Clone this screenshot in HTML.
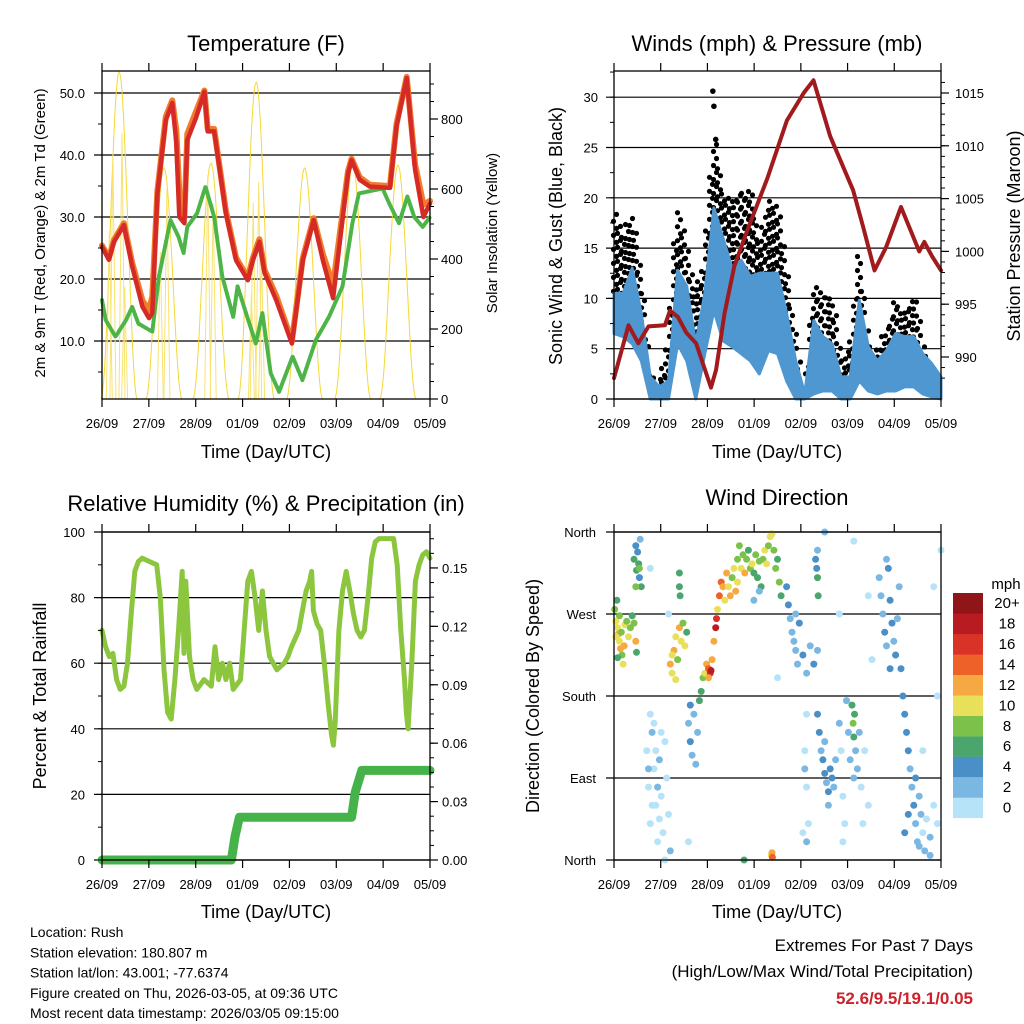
<!DOCTYPE html>
<html><head><meta charset="utf-8">
<style>
html,body{margin:0;padding:0;background:#fff;}
svg{display:block;font-family:"Liberation Sans",sans-serif;}
</style></head>
<body>
<svg id="chart" width="1024" height="1024" viewBox="0 0 1024 1024" xmlns="http://www.w3.org/2000/svg">
<g id="layer-back"></g>
<g id="layer-data"></g>
<g id="layer-axes"></g>
<g id="layer-text"></g>
</svg>
<script>
// ---------- data (time in axis units: 0..9 spans 26/09 00 UTC .. 05/09 00 UTC) ----------
const dayLabels = ["26/09","27/09","28/09","01/09","02/09","03/09","04/09","05/09"];
const tempT = [0,0.19,0.33,0.6,0.83,1.11,1.29,1.38,1.52,1.75,1.93,2.04,2.12,2.26,2.34,2.58,2.81,2.9,3.08,3.4,3.68,4.0,4.14,4.32,4.46,4.78,5.21,5.51,5.81,6.06,6.34,6.75,6.85,7.07,7.35,7.9,8.08,8.36,8.59,8.82,9];
const tempRed = [25.2,23.1,26,28.7,22,15.5,13.7,14.5,33.8,45.6,48.4,42,30,29,42.4,46,50.2,43.8,43.8,30.6,23,19.8,23,26,21,16.6,9.6,23,29.5,23,16.9,37,39.2,36,34.9,34.7,44.6,52.4,37.6,30,32.2];
const tempOrange = [25.4,23.4,26.3,29,22.6,16.5,15,17.2,34.2,46.2,48.8,44,34,30,43.4,47,50.4,44.2,44.2,31,23.4,20.2,23.4,26.4,21.5,17.3,10,23.4,29.8,24,19,37.4,39.4,36.4,35.2,35,45,52.6,38.5,32,32.6];
const tdT = [0,0.1,0.37,0.66,0.83,1.0,1.38,1.56,1.88,2.1,2.24,2.34,2.61,2.84,3.08,3.3,3.6,3.72,3.95,4.22,4.4,4.63,4.86,5.23,5.5,5.87,6.23,6.6,6.87,7.05,7.7,7.88,8.15,8.38,8.57,8.8,9];
const tdVal = [16.6,13.4,10.7,13.4,15.5,12.8,11.5,20.4,29.5,26.8,24.2,28.4,30.6,34.9,30,20.4,13.9,18.8,14.5,9.6,14.5,4.8,1.8,7.5,3.7,10.2,13.9,18.8,29,33.8,34.6,32.2,29,33.3,30,28.4,30];
const solarT = [0.47,1.7,2.99,4.23,5.56,6.88,8.12];
const solarPeak = [934,660,674,905,660,670,668];
const solarSpikeT = [0.2,0.3,0.55,0.62,1.6,1.78,2.9,3.05,4.15,4.3,4.38,4.1];
const solarSpikeV = [480,700,760,320,420,600,640,560,560,620,400,300];

const presT = [0,0.4,0.67,0.95,1.4,1.54,1.76,1.99,2.26,2.67,2.81,3.04,3.31,3.67,4.22,4.76,5.22,5.49,5.95,6.58,6.86,7.17,7.49,7.9,8.4,8.54,8.76,9];
const presVal = [988.0,993.0,991.3,992.9,993.0,994.4,993.8,992.3,991.3,987.1,988.8,994.1,998.6,1002.0,1006.9,1012.4,1015.0,1016.2,1010.9,1005.8,1002.3,998.2,1000.4,1004.2,1000.0,1000.9,999.5,998.2];
const windT = [0,0.25,0.5,0.75,1,1.25,1.5,1.75,2,2.25,2.5,2.75,3,3.25,3.5,3.75,4,4.25,4.5,4.75,5,5.25,5.5,5.75,6,6.25,6.5,6.75,7,7.25,7.5,7.75,8,8.25,8.5,8.75,9];
const windHi = [10.5,10.5,13,8.5,2.2,1.2,1.8,12.8,11.2,5.5,10.5,19,16,13,13.8,12.2,12.5,12.5,12.5,8.5,3.8,0.5,7.8,6.2,5.5,2.2,2.2,9.8,5.2,3.8,4.8,6.5,6.2,6.2,4.5,3.5,2.2];
const windLo = [6.5,6.2,5.5,3.8,0,0,0,5.5,3.8,0,4.5,8.8,5.8,5.2,4.5,3.8,2.5,4.8,4.5,1.8,0,0,0.5,0.8,0.8,0,0,1.8,0.8,0.5,0.8,0.8,1.2,1.2,0.5,0.2,0];
const gustHi = [18.8,16.5,18.5,12.5,2.5,2.2,5.5,19.5,15,10.5,13.8,26,20.5,19.8,20.5,20.8,15.5,19.8,19.5,12.5,6.2,0.5,11.8,10.5,10.5,3.8,5.2,15,5.5,5.2,7.2,9.8,8.5,10.8,5.5,3.5,1.8];
const gustPeakT = [2.72,2.75,2.8];
const gustPeakV = [30.6,29.1,25.8];

const rhT = [0,0.1,0.2,0.3,0.4,0.5,0.6,0.7,0.8,0.9,1.0,1.1,1.3,1.5,1.6,1.7,1.8,1.9,2.0,2.1,2.2,2.25,2.3,2.4,2.5,2.6,2.8,3.0,3.1,3.2,3.3,3.4,3.5,3.6,3.8,4.0,4.1,4.2,4.3,4.4,4.5,4.6,4.8,5.0,5.1,5.2,5.4,5.5,5.6,5.7,5.75,5.8,5.9,6.0,6.1,6.2,6.3,6.35,6.4,6.5,6.6,6.7,6.8,6.9,7.0,7.1,7.2,7.3,7.4,7.5,7.6,7.8,8.0,8.1,8.2,8.3,8.35,8.4,8.5,8.6,8.7,8.8,8.9,9.0];
const rhVal = [70,65,62,63,55,52,53,60,75,88,91,92,91,90,80,58,45,43,55,70,88,63,85,62,55,52,55,53,65,55,60,55,60,52,55,85,88,80,70,82,70,62,58,60,62,65,70,76,82,85,88,76,72,70,60,48,38,35,42,70,82,88,82,75,70,68,70,80,92,97,98,98,98,90,70,55,45,40,60,85,90,93,94,92];
const precipT = [0,3.55,3.65,3.77,6.85,6.95,7.13,9];
const precipVal = [0,0,0.012,0.022,0.022,0.035,0.046,0.046];

const dirT = [0.02,0.05,0.08,0.1,0.12,0.15,0.18,0.2,0.22,0.25,0.3,0.35,0.4,0.45,0.5,0.55,0.6,0.62,0.05,0.15,0.28,0.1,
0.55,0.6,0.62,0.65,0.68,0.7,0.72,0.75,0.6,0.7,
0.9,0.95,1.0,1.05,1.1,1.15,1.2,1.0,1.25,1.3,1.35,1.4,1.45,1.5,1.55,1.1,1.2,1.3,1.4,0.95,1.05,1.15,1.25,
1.55,1.6,1.65,1.7,1.75,1.8,1.85,1.9,1.95,2.0,1.6,1.7,1.8,1.8,1.82,
2.05,2.1,2.15,2.2,2.25,2.3,2.1,
2.35,2.4,2.45,2.5,2.55,2.6,2.65,2.67,2.7,2.75,2.8,2.82,2.85,2.6,
2.9,2.95,3.0,3.05,3.1,3.15,3.2,3.25,3.3,3.35,3.4,
3.4,3.45,3.5,3.55,3.6,3.65,3.7,3.75,3.8,3.85,3.9,3.95,4.0,4.05,4.1,4.15,4.2,4.25,4.3,4.35,4.4,4.45,4.5,4.55,4.6,4.0,3.85,
4.75,4.8,4.85,4.9,4.95,5.0,5.05,5.1,5.2,5.3,5.4,5.5,5.0,5.6,
5.3,5.25,5.3,5.35,5.3,5.25,5.2,
5.55,5.6,5.62,5.58,5.6,
5.6,5.65,5.7,5.75,5.8,5.85,5.9,5.95,6.0,6.05,5.9,5.8,6.1,
6.2,6.25,6.3,6.35,6.4,6.45,6.5,6.55,6.58,6.6,6.62,6.65,6.7,6.75,6.8,6.85,6.9,7.0,6.6,6.3,
7.3,7.35,7.4,7.45,7.5,7.55,7.6,7.65,7.7,7.75,7.8,7.85,7.5,7.6,
7.9,7.95,8.0,8.05,8.1,8.15,8.2,8.25,8.3,8.35,8.4,8.45,8.5,8.55,8.6,8.7,8.8,8.5,8.1,8.3,8.0,8.7,8.9,8.4,
4.33,4.35,4.36,3.58,
1.5,1.0,2.05,4.5,6.2,7.1,8.9,9.0,8.8,6.6,7.0,5.8];
const dirDeg = [275,262,285,255,248,240,232,250,225,215,258,262,245,255,268,260,240,228,245,268,235,222,
330,345,318,338,325,310,352,300,300,320,
120,80,40,140,100,60,20,160,110,70,30,130,90,50,10,150,80,140,0,100,60,120,45,
215,205,230,245,220,255,240,260,235,250,225,198,315,300,290,
150,130,115,160,105,140,170,
175,185,200,205,215,210,205,208,220,240,255,265,275,200,
290,305,300,285,315,300,290,310,320,295,305,
330,345,320,335,315,330,340,320,325,315,335,310,328,300,330,340,325,345,355,358,340,320,330,305,290,295,285,
300,280,265,250,240,230,215,260,225,205,235,215,270,230,
160,120,80,40,20,100,30,
330,310,290,320,340,
160,140,120,110,95,85,75,100,90,80,60,130,110,
150,120,70,40,175,140,110,170,150,135,160,120,100,140,80,40,120,60,90,20,
310,290,270,250,235,320,285,260,240,225,265,300,330,210,
210,180,160,140,120,100,80,60,40,20,70,50,30,10,45,25,60,120,50,90,30,5,40,15,
5,8,3,0,
270,320,20,200,270,220,180,340,300,350,290,360];
const dirSpd = [8,10,6,11,12,10,12,9,8,10,11,9,10,8,7,9,12,6,11,9,12,7,
6,4,6,5,7,4,3,6,8,8,
1,0,1,2,1,0,1,0,2,1,0,1,1,0,2,1,2,0,1,2,1,1,1,
12,10,12,11,9,12,10,8,10,7,11,10,6,6,6,
3,4,3,2,3,2,4,
6,7,8,10,12,14,16,19,12,12,18,16,10,12,
14,14,12,10,12,10,12,9,11,12,10,
8,9,10,8,12,9,7,8,10,6,8,7,9,6,8,10,11,9,10,10,8,9,7,8,6,3,3,
4,4,3,2,2,3,2,4,4,2,3,4,2,2,
1,0,1,1,2,2,0,
4,6,6,4,3,
4,4,3,4,4,3,4,4,4,3,2,2,2,
2,1,1,0,3,2,2,6,8,7,6,3,2,2,1,1,0,1,2,1,
2,2,3,4,3,4,4,4,3,4,2,2,2,4,
4,4,4,4,4,3,2,4,2,2,3,2,1,2,1,2,1,1,4,4,4,2,1,2,
10,12,14,6,
1,1,1,1,1,1,1,1,1,1,1,2];
const speedColors = ["#b6e3f8","#7ab8e3","#4a8fc6","#4aa66d","#7cc24a","#e8e05a","#f6a842","#ee6128","#d93327","#b81c22","#8f1518"];
const speedLabels = ["0","2","4","6","8","10","12","14","16","18","20+"];

// ---------- helpers ----------
const NS = "http://www.w3.org/2000/svg";
const back = document.getElementById('layer-back');
const dataL = document.getElementById('layer-data');
const axesL = document.getElementById('layer-axes');
const textL = document.getElementById('layer-text');
function mk(tag, attrs, parent){const e=document.createElementNS(NS,tag);for(const k in attrs)e.setAttribute(k,attrs[k]);parent.appendChild(e);return e;}
function txt(s,x,y,size,anchor,parent,extra){const e=mk('text',{x:x,y:y,'font-size':size,'text-anchor':anchor||'middle',fill:'#000'},parent);if(extra)for(const k in extra)e.setAttribute(k,extra[k]);e.textContent=s;return e;}

const PL = {x0:102,x1:430}, PR = {x0:614,x1:941};
const xA = u => PL.x0 + u*(PL.x1-PL.x0)/9;
const xB = u => PR.x0 + u*(PR.x1-PR.x0)/9;
const yT = v => 403 - v*6.2;
const yS = v => 399 - v*0.35;
const yW = v => 399 - v*10.06;
const yP = v => 93 + (1015-v)*10.56;
const yR = v => 860 - v*3.28;
const yPr = v => 860 - v*1947;
const yD = v => 860 - v*328/360;

function frame(p, top, bot, name){
  const r = mk('rect',{x:p.x0,y:top,width:p.x1-p.x0,height:bot-top,fill:'none',stroke:'#000','stroke-width':1.3},axesL);
  
  
  for(let i=0;i<8;i++){
    const x = p.x0 + i*(p.x1-p.x0)/7;
    mk('line',{x1:x,y1:top,x2:x,y2:top-8,stroke:'#000','stroke-width':1.2},axesL);
    mk('line',{x1:x,y1:bot,x2:x,y2:bot+8,stroke:'#000','stroke-width':1.2},axesL);
    const t = txt(dayLabels[i], x, bot+29, 13, 'middle', textL);
    
    
  }
}
function leftAxis(p, scale, majors, minors, labels, name, lx, grid){
  majors.forEach((v,i)=>{
    const y=scale(v);
    if(grid) mk('line',{x1:p.x0-8,y1:y,x2:p.x1,y2:y,stroke:'#000','stroke-width':1.2},back);
    else mk('line',{x1:p.x0-8,y1:y,x2:p.x0,y2:y,stroke:'#000','stroke-width':1.2},axesL);
    const t=txt(labels[i], lx, y+5, 13, 'end', textL);
    
    
  });
  minors.forEach(v=>{const y=scale(v);mk('line',{x1:p.x0-4,y1:y,x2:p.x0,y2:y,stroke:'#000','stroke-width':1},axesL);});
}
function rightAxis(p, scale, majors, minors, labels, name, lx){
  majors.forEach((v,i)=>{
    const y=scale(v);
    mk('line',{x1:p.x1,y1:y,x2:p.x1+8,y2:y,stroke:'#000','stroke-width':1.2},axesL);
    const t=txt(labels[i], lx, y+5, 13, 'start', textL);
    
    
  });
  minors.forEach(v=>{const y=scale(v);mk('line',{x1:p.x1,y1:y,x2:p.x1+4,y2:y,stroke:'#000','stroke-width':1},axesL);});
}
function polyline(ts, vs, xs, ys, attrs, name){
  const pts = ts.map((t,i)=>xs(t).toFixed(1)+','+ys(vs[i]).toFixed(1)).join(' ');
  const a = Object.assign({points:pts,fill:'none','stroke-linejoin':'round','stroke-linecap':'round'},attrs);
  const e = mk('polyline',a,dataL);
  
  
  return e;
}
function interp(ts, vs, t){
  if(t<=ts[0])return vs[0];
  for(let i=1;i<ts.length;i++){if(t<=ts[i]){const f=(t-ts[i-1])/(ts[i]-ts[i-1]);return vs[i-1]+f*(vs[i]-vs[i-1]);}}
  return vs[vs.length-1];
}
function range(a,b,s){const r=[];for(let v=a;v<=b+1e-9;v+=s)r.push(+v.toFixed(4));return r;}

// ---------- Panel 1: Temperature ----------
frame(PL,71,399,'temperature');
leftAxis(PL,yT,[10,20,30,40,50],range(5,50,5),["10.0","20.0","30.0","40.0","50.0"],'temperature-y',85,true);
rightAxis(PL,yS,[0,200,400,600,800],range(0,900,50),["0","200","400","600","800"],'solar-y',441);
solarT.forEach((c,i)=>{
  const half = 0.5, pts=[];
  for(let k=0;k<=40;k++){const t=c-half+2*half*k/40;const s=Math.sin(Math.PI*k/40);pts.push(xA(t).toFixed(1)+','+yS(solarPeak[i]*s*s).toFixed(1));}
  const e=mk('polyline',{points:pts.join(' '),fill:'none',stroke:'#f5d835','stroke-width':1},dataL);
  
  
});
solarSpikeT.forEach((t,i)=>{
  const e=mk('polyline',{points:`${(xA(t)-3).toFixed(1)},${yS(0)} ${xA(t).toFixed(1)},${yS(solarSpikeV[i]).toFixed(1)} ${(xA(t)+3).toFixed(1)},${yS(0)}`,fill:'none',stroke:'#f8e370','stroke-width':1},dataL);
  
  
});
polyline(tdT,tdVal,xA,yT,{stroke:'#4db548','stroke-width':4,'stroke-dasharray':'3 1.5'},'dewpoint-line');
polyline(tempT,tempOrange,xA,yT,{stroke:'#f07d2c','stroke-width':6},'temp-9m-line');
polyline(tempT,tempRed,xA,yT,{stroke:'#d52a25','stroke-width':4.5},'temp-2m-line');

// ---------- Panel 2: Winds & Pressure ----------
frame(PR,71,399,'winds');
leftAxis(PR,yW,[0,5,10,15,20,25,30],range(0,32.5,2.5),["0","5","10","15","20","25","30"],'wind-y',598,true);
rightAxis(PR,yP,[990,995,1000,1005,1010,1015],range(988,1016,1),["990","995","1000","1005","1010","1015"],'pressure-y',955);
let gk=0;
for(let x=PR.x0+1;x<=PR.x1-1;x+=4){
  const u=(x-PR.x0)*9/(PR.x1-PR.x0);
  const hi=interp(windT,windHi,u), g=interp(windT,gustHi,u);
  let k=0;
  gk++;
  for(let y=yW(hi)-(gk%3)*2; y>=yW(g); y-=7){
    const c=mk('circle',{cx:x+((k++)%2?1.5:-1.5),cy:y.toFixed(1),r:2.6,fill:'#000'},dataL);
    
    
  }
}
gustPeakT.forEach((t,i)=>{
  const c=mk('circle',{cx:xB(t),cy:yW(gustPeakV[i]),r:2.8,fill:'#000'},dataL);
  
  
});
{
  const top=windT.map((t,i)=>xB(t).toFixed(1)+','+yW(windHi[i]).toFixed(1));
  const bot=windT.slice().reverse().map((t,j)=>{const i=windT.length-1-j;return xB(t).toFixed(1)+','+yW(windLo[i]).toFixed(1);});
  const e=mk('polygon',{points:top.concat(bot).join(' '),fill:'#4f97d0',stroke:'#4f97d0','stroke-width':3,'stroke-linejoin':'round'},dataL);
  
  
}
polyline(presT,presVal,xB,yP,{stroke:'#a11a1d','stroke-width':4},'pressure-line');

// ---------- Panel 3: RH & Precip ----------
frame(PL,532,860,'humidity');
leftAxis(PL,yR,[0,20,40,60,80,100],range(0,100,10),["0","20","40","60","80","100"],'rh-y',85,true);
rightAxis(PL,yPr,[0,0.03,0.06,0.09,0.12,0.15],range(0,0.165,0.0075),["0.00","0.03","0.06","0.09","0.12","0.15"],'precip-y',442);
polyline(rhT,rhVal,xA,yR,{stroke:'#8cc63f','stroke-width':5},'relative-humidity-line');
polyline(precipT,precipVal,xA,yPr,{stroke:'#45b34a','stroke-width':9},'precipitation-line');

// ---------- Panel 4: Wind direction ----------
frame(PR,532,860,'wind-direction');
leftAxis(PR,yD,[0,90,180,270,360],[],["North","East","South","West","North"],'direction-y',596,true);
dirT.forEach((t,i)=>{
  const bin=Math.min(10,Math.floor(dirSpd[i]/2));
  const c=mk('circle',{cx:xB(t).toFixed(1),cy:yD(dirDeg[i]).toFixed(1),r:3.5,fill:speedColors[bin]},dataL);
  
  
});
speedColors.forEach((c,i)=>{
  const y=818-(i+1)*20.45;
  const r=mk('rect',{x:953,y:y.toFixed(1),width:30,height:20.6,fill:c},axesL);
  
  
  const t=txt(speedLabels[i],1007,y+15,15,'middle',textL);
  
  
});
</script>
<script>
(function(){
  const T=document.getElementById('layer-text');
  const NS="http://www.w3.org/2000/svg";
  function t(s,x,y,size,anchor,name,extra){const e=document.createElementNS(NS,'text');e.setAttribute('x',x);e.setAttribute('y',y);e.setAttribute('font-size',size);e.setAttribute('text-anchor',anchor);e.setAttribute('fill','#000');if(extra)for(const k in extra)e.setAttribute(k,extra[k]);
    
    
    e.textContent=s;T.appendChild(e);return e;}
  t("Temperature (F)",266,51,22,'middle','temperature-title');
  t("Winds (mph) & Pressure (mb)",777,51,22,'middle','winds-title');
  t("Relative Humidity (%) & Precipitation (in)",266,511,22,'middle','humidity-title');
  t("Wind Direction",777,505,22,'middle','wind-direction-title');
  t("Time (Day/UTC)",266,458,18,'middle','temperature-x-title');
  t("Time (Day/UTC)",777,458,18,'middle','winds-x-title');
  t("Time (Day/UTC)",266,918,18,'middle','humidity-x-title');
  t("Time (Day/UTC)",777,918,18,'middle','direction-x-title');
  t("2m & 9m T (Red, Orange) & 2m Td (Green)",0,0,15,'middle','temperature-y-title',{transform:'translate(45,233) rotate(-90)'});
  t("Solar Insolation (Yellow)",0,0,15,'middle','solar-y-title',{transform:'translate(497,233) rotate(-90)'});
  t("Sonic Wind & Gust (Blue, Black)",0,0,18,'middle','wind-y-title',{transform:'translate(562,236) rotate(-90)'});
  t("Station Pressure (Maroon)",0,0,18,'middle','pressure-y-title',{transform:'translate(1020,236) rotate(-90)'});
  t("Percent & Total Rainfall",0,0,18,'middle','rh-y-title',{transform:'translate(46,696) rotate(-90)'});
  t("Direction (Colored By Speed)",0,0,18,'middle','direction-y-title',{transform:'translate(539,696) rotate(-90)'});
  t("mph",1006,589,15,'middle','colorbar-unit');
  const lines=["Location: Rush","Station elevation: 180.807 m","Station lat/lon: 43.001; -77.6374","Figure created on Thu, 2026-03-05, at 09:36 UTC","Most recent data timestamp: 2026/03/05 09:15:00"];
  lines.forEach((s,i)=>t(s,30,937+i*20.3,14,'start','station-info-line'));
  t("Extremes For Past 7 Days",973,951,17,'end','extremes-title');
  t("(High/Low/Max Wind/Total Precipitation)",973,977,17,'end','extremes-subtitle');
  t("52.6/9.5/19.1/0.05",973,1004,17,'end','extremes-values',{fill:'#cc2229','font-weight':'bold'});
})();
</script>
</body></html>
